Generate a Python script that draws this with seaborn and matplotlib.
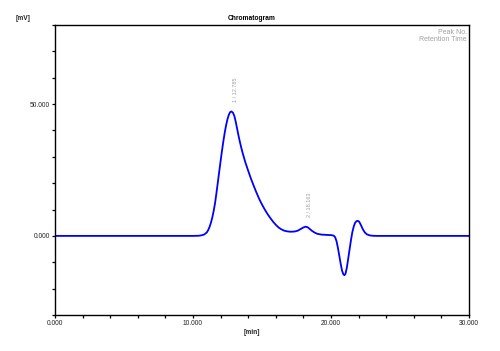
import matplotlib
matplotlib.use("Agg")
import matplotlib.pyplot as plt
import seaborn as sns
import pandas as pd
from matplotlib.ticker import MultipleLocator, FuncFormatter

# ---- data ----
time_min = [0.0, 2.0, 4.0, 6.0, 8.0, 10.0, 10.4, 10.6, 10.8, 11.0, 11.1, 11.2, 11.3,
            11.4, 11.5, 11.6, 11.7, 11.8, 11.9, 12.0, 12.1, 12.2, 12.3, 12.4, 12.5,
            12.6, 12.7, 12.785, 12.9, 13.0, 13.1, 13.2, 13.3, 13.4, 13.5, 13.6,
            13.8, 14.0, 14.2, 14.4, 14.6, 14.8, 15.0, 15.2, 15.4, 15.6, 15.8,
            16.0, 16.2, 16.4, 16.6, 16.8, 17.0, 17.2, 17.4, 17.6, 17.8, 18.0,
            18.163, 18.3, 18.4, 18.6, 18.8, 19.0, 19.3, 19.6, 20.0, 20.2, 20.3, 20.4,
            20.5, 20.6, 20.7, 20.8, 20.9, 20.97, 21.05, 21.15, 21.25, 21.35,
            21.45, 21.55, 21.65, 21.75, 21.85, 21.96, 22.05, 22.15, 22.3, 22.45,
            22.6, 22.8, 23.0, 23.3, 25.0, 27.5, 30.0]
signal_mv = [0.0, 0.0, 0.0, 0.0, 0.0, 0.0, 0.05, 0.2, 0.5, 1.3, 2.2, 3.4, 5.0,
             7.0, 9.5, 12.5, 16.3, 20.3, 24.4, 28.4, 32.3, 35.9, 39.2, 42.0, 44.3,
             46.0, 47.0, 47.2, 46.7, 45.4, 43.2, 40.6, 38.0, 35.6, 33.4, 31.4,
             27.8, 24.7, 21.7, 19.0, 16.4, 14.0, 11.9, 10.0, 8.3, 6.8, 5.4,
             4.2, 3.2, 2.5, 2.0, 1.75, 1.6, 1.6, 1.7, 2.0, 2.6, 3.2,
             3.5, 3.3, 2.9, 2.0, 1.3, 0.8, 0.5, 0.4, 0.3, 0.1, -0.5, -2.0,
             -4.5, -7.5, -10.5, -13.2, -14.6, -14.9, -14.4, -12.0, -8.5, -5.0,
             -1.5, 1.5, 3.6, 5.0, 5.6, 5.7, 5.3, 4.3, 2.6, 1.3,
             0.6, 0.2, 0.05, 0.0, 0.0, 0.0, 0.0]
peak_times = [12.785, 18.163]
peak_heights = [47.2, 3.5]
peak_labels = ["1 / 12.785", "2 / 18.163"]

df = pd.DataFrame({"time": time_min, "signal": signal_mv})

sns.set_style("ticks")
plt.rcParams["font.family"] = ["Liberation Sans", "DejaVu Sans"]

fig = plt.figure(figsize=(5.0, 3.51), dpi=100)
ax = fig.add_axes([0.11, 0.1026, 0.828, 0.8262])

sns.lineplot(data=df, x="time", y="signal", ax=ax, color="#0000ff",
             linewidth=1.3, estimator=None, sort=False)

ax.set_xlim(0, 30)
ax.set_ylim(-30, 80)
ax.xaxis.set_major_locator(MultipleLocator(2))
ax.yaxis.set_major_locator(MultipleLocator(10))
ax.xaxis.set_major_formatter(FuncFormatter(
    lambda v, p: f"{v:.3f}" if abs(v % 10) < 1e-6 or abs(v % 10 - 10) < 1e-6 else ""))
ax.yaxis.set_major_formatter(FuncFormatter(
    lambda v, p: f"{v:.3f}" if abs(v) < 1e-6 or abs(v - 50) < 1e-6 else ""))
ax.tick_params(axis="both", length=2.2, width=0.9, labelsize=4.8, pad=1.2,
               direction="out", color="black", labelcolor="#222222")
for s in ax.spines.values():
    s.set_visible(True)
    s.set_linewidth(1.0)
    s.set_color("black")
ax.set_xlabel("")
ax.set_ylabel("")

for t, h, lab in zip(peak_times, peak_heights, peak_labels):
    ax.annotate(lab, xy=(t, h), xytext=(3, 7), textcoords="offset points",
                rotation=90, ha="center", va="bottom", fontsize=4.0,
                color="#a0a0a0")

ax.text(0.995, 0.985, "Peak No.\nRetention Time", transform=ax.transAxes,
        ha="right", va="top", fontsize=5.0, color="#a0a0a0", linespacing=1.0)

fig.text(0.046, 0.946, "[mV]", ha="center", va="center", fontsize=4.8,
         fontweight="bold", color="#222222")
fig.text(0.504, 0.946, "Chromatogram", ha="center", va="center", fontsize=4.8,
         fontweight="bold", color="black")
fig.text(0.504, 0.0513, "[min]", ha="center", va="center", fontsize=4.8,
         fontweight="bold", color="#222222")

fig.savefig("out.png", dpi=100, facecolor="white")
